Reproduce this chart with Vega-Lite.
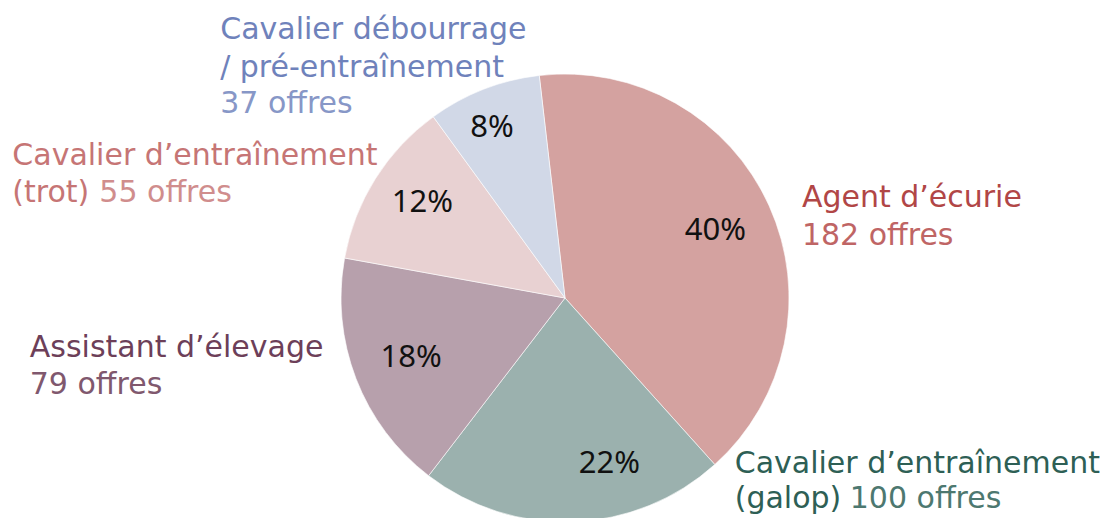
{
  "$schema": "https://vega.github.io/schema/vega-lite/v6.json",
  "width": 1094,
  "height": 440,
  "autosize": "none",
  "padding": {"left": 18, "top": 78, "right": 0, "bottom": 0},
  "background": "white",
  "config": {"view": {"stroke": null}, "text": {"font": "DejaVu Sans"}},
  "data": {
    "values": [
      {"cat": "agent", "title": "Agent d’écurie", "sub": "", "count": "182 offres", "value": 182, "order": 1, "pct": "40%"},
      {"cat": "galop", "title": "Cavalier d’entraînement", "sub": "(galop)", "count": "100 offres", "value": 100, "order": 2, "pct": "22%"},
      {"cat": "assistant", "title": "Assistant d’élevage", "sub": "", "count": "79 offres", "value": 79, "order": 3, "pct": "18%"},
      {"cat": "trot", "title": "Cavalier d’entraînement", "sub": "(trot)", "count": "55 offres", "value": 55, "order": 4, "pct": "12%"},
      {"cat": "debourrage", "title": "Cavalier débourrage\n/ pré-entraînement", "sub": "", "count": "37 offres", "value": 37, "order": 5, "pct": "8%"}
    ]
  },
  "encoding": {
    "theta": {"field": "value", "type": "quantitative", "stack": true, "scale": {"range": [-0.1152, 6.168]}},
    "order": {"field": "order", "type": "quantitative"},
    "detail": {"field": "cat", "type": "nominal"}
  },
  "layer": [
    {
      "mark": {"type": "arc", "outerRadius": 224, "stroke": "white", "strokeWidth": 0.6},
      "encoding": {
        "color": {"field": "cat", "type": "nominal", "legend": null,
          "scale": {"domain": ["agent", "galop", "assistant", "trot", "debourrage"],
                    "range": ["#d4a2a0", "#9bb1ae", "#b7a0ac", "#e8d1d2", "#d1d8e7"]}}
      }
    },
    {
      "mark": {"type": "text", "radius": 165, "font": "Noto Sans", "fontSize": 31, "fill": "#111111", "align": "center", "baseline": "alphabetic", "dy": 10},
      "encoding": {"text": {"condition": {"test": "datum.cat === 'agent' || datum.cat === 'assistant'", "field": "pct"}, "value": ""}}
    },
    {
      "mark": {"type": "text", "radius": 165, "font": "Noto Sans", "fontSize": 31, "fill": "#111111", "align": "center", "baseline": "alphabetic", "dx": 38, "dy": 10},
      "encoding": {"text": {"condition": {"test": "datum.cat === 'galop'", "field": "pct"}, "value": ""}}
    },
    {
      "mark": {"type": "text", "radius": 165, "font": "Noto Sans", "fontSize": 31, "fill": "#111111", "align": "center", "baseline": "alphabetic", "dx": -3, "dy": 2},
      "encoding": {"text": {"condition": {"test": "datum.cat === 'trot'", "field": "pct"}, "value": ""}}
    },
    {
      "mark": {"type": "text", "radius": 165, "font": "Noto Sans", "fontSize": 31, "fill": "#111111", "align": "center", "baseline": "alphabetic", "dx": -13, "dy": -7},
      "encoding": {"text": {"condition": {"test": "datum.cat === 'debourrage'", "field": "pct"}, "value": ""}}
    },
    {
      "mark": {"type": "text", "radius": 250, "fontSize": 30, "fill": "#b14646", "align": "left", "baseline": "alphabetic", "dx": 9, "dy": 12},
      "encoding": {"text": {"condition": {"test": "datum.cat === 'agent'", "field": "title"}, "value": ""}}
    },
    {
      "mark": {"type": "text", "radius": 250, "fontSize": 30, "fill": "#bf6565", "align": "left", "baseline": "alphabetic", "dx": 9, "dy": 50},
      "encoding": {"text": {"condition": {"test": "datum.cat === 'agent'", "field": "count"}, "value": ""}}
    },
    {
      "mark": {"type": "text", "radius": 250, "fontSize": 30, "fill": "#2e5f55", "align": "left", "baseline": "alphabetic", "dx": 160, "dy": -75},
      "encoding": {"text": {"condition": {"test": "datum.cat === 'galop'", "field": "title"}, "value": ""}}
    },
    {
      "mark": {"type": "text", "radius": 250, "fontSize": 30, "fill": "#2e5f55", "align": "left", "baseline": "alphabetic", "dx": 160, "dy": -40},
      "encoding": {"text": {"condition": {"test": "datum.cat === 'galop'", "field": "sub"}, "value": ""}}
    },
    {
      "mark": {"type": "text", "radius": 250, "fontSize": 30, "fill": "#4d7870", "align": "left", "baseline": "alphabetic", "dx": 275, "dy": -40},
      "encoding": {"text": {"condition": {"test": "datum.cat === 'galop'", "field": "count"}, "value": ""}}
    },
    {
      "mark": {"type": "text", "radius": 250, "fontSize": 30, "fill": "#6d3f59", "align": "left", "baseline": "alphabetic", "dx": -302, "dy": -31},
      "encoding": {"text": {"condition": {"test": "datum.cat === 'assistant'", "field": "title"}, "value": ""}}
    },
    {
      "mark": {"type": "text", "radius": 250, "fontSize": 30, "fill": "#80586e", "align": "left", "baseline": "alphabetic", "dx": -302, "dy": 6},
      "encoding": {"text": {"condition": {"test": "datum.cat === 'assistant'", "field": "count"}, "value": ""}}
    },
    {
      "mark": {"type": "text", "radius": 250, "fontSize": 30, "fill": "#c67575", "align": "left", "baseline": "alphabetic", "dx": -341, "dy": 0},
      "encoding": {"text": {"condition": {"test": "datum.cat === 'trot'", "field": "title"}, "value": ""}}
    },
    {
      "mark": {"type": "text", "radius": 250, "fontSize": 30, "fill": "#c67575", "align": "left", "baseline": "alphabetic", "dx": -341, "dy": 37},
      "encoding": {"text": {"condition": {"test": "datum.cat === 'trot'", "field": "sub"}, "value": ""}}
    },
    {
      "mark": {"type": "text", "radius": 250, "fontSize": 30, "fill": "#d08d8d", "align": "left", "baseline": "alphabetic", "dx": -254, "dy": 37},
      "encoding": {"text": {"condition": {"test": "datum.cat === 'trot'", "field": "count"}, "value": ""}}
    },
    {
      "mark": {"type": "text", "radius": 250, "fontSize": 30, "fill": "#6f82bb", "align": "left", "baseline": "alphabetic", "lineBreak": "\n", "lineHeight": 38, "dx": -254, "dy": -26},
      "encoding": {"text": {"condition": {"test": "datum.cat === 'debourrage'", "field": "title"}, "value": ""}}
    },
    {
      "mark": {"type": "text", "radius": 250, "fontSize": 30, "fill": "#8797c7", "align": "left", "baseline": "alphabetic", "dx": -254, "dy": 48},
      "encoding": {"text": {"condition": {"test": "datum.cat === 'debourrage'", "field": "count"}, "value": ""}}
    }
  ]
}
